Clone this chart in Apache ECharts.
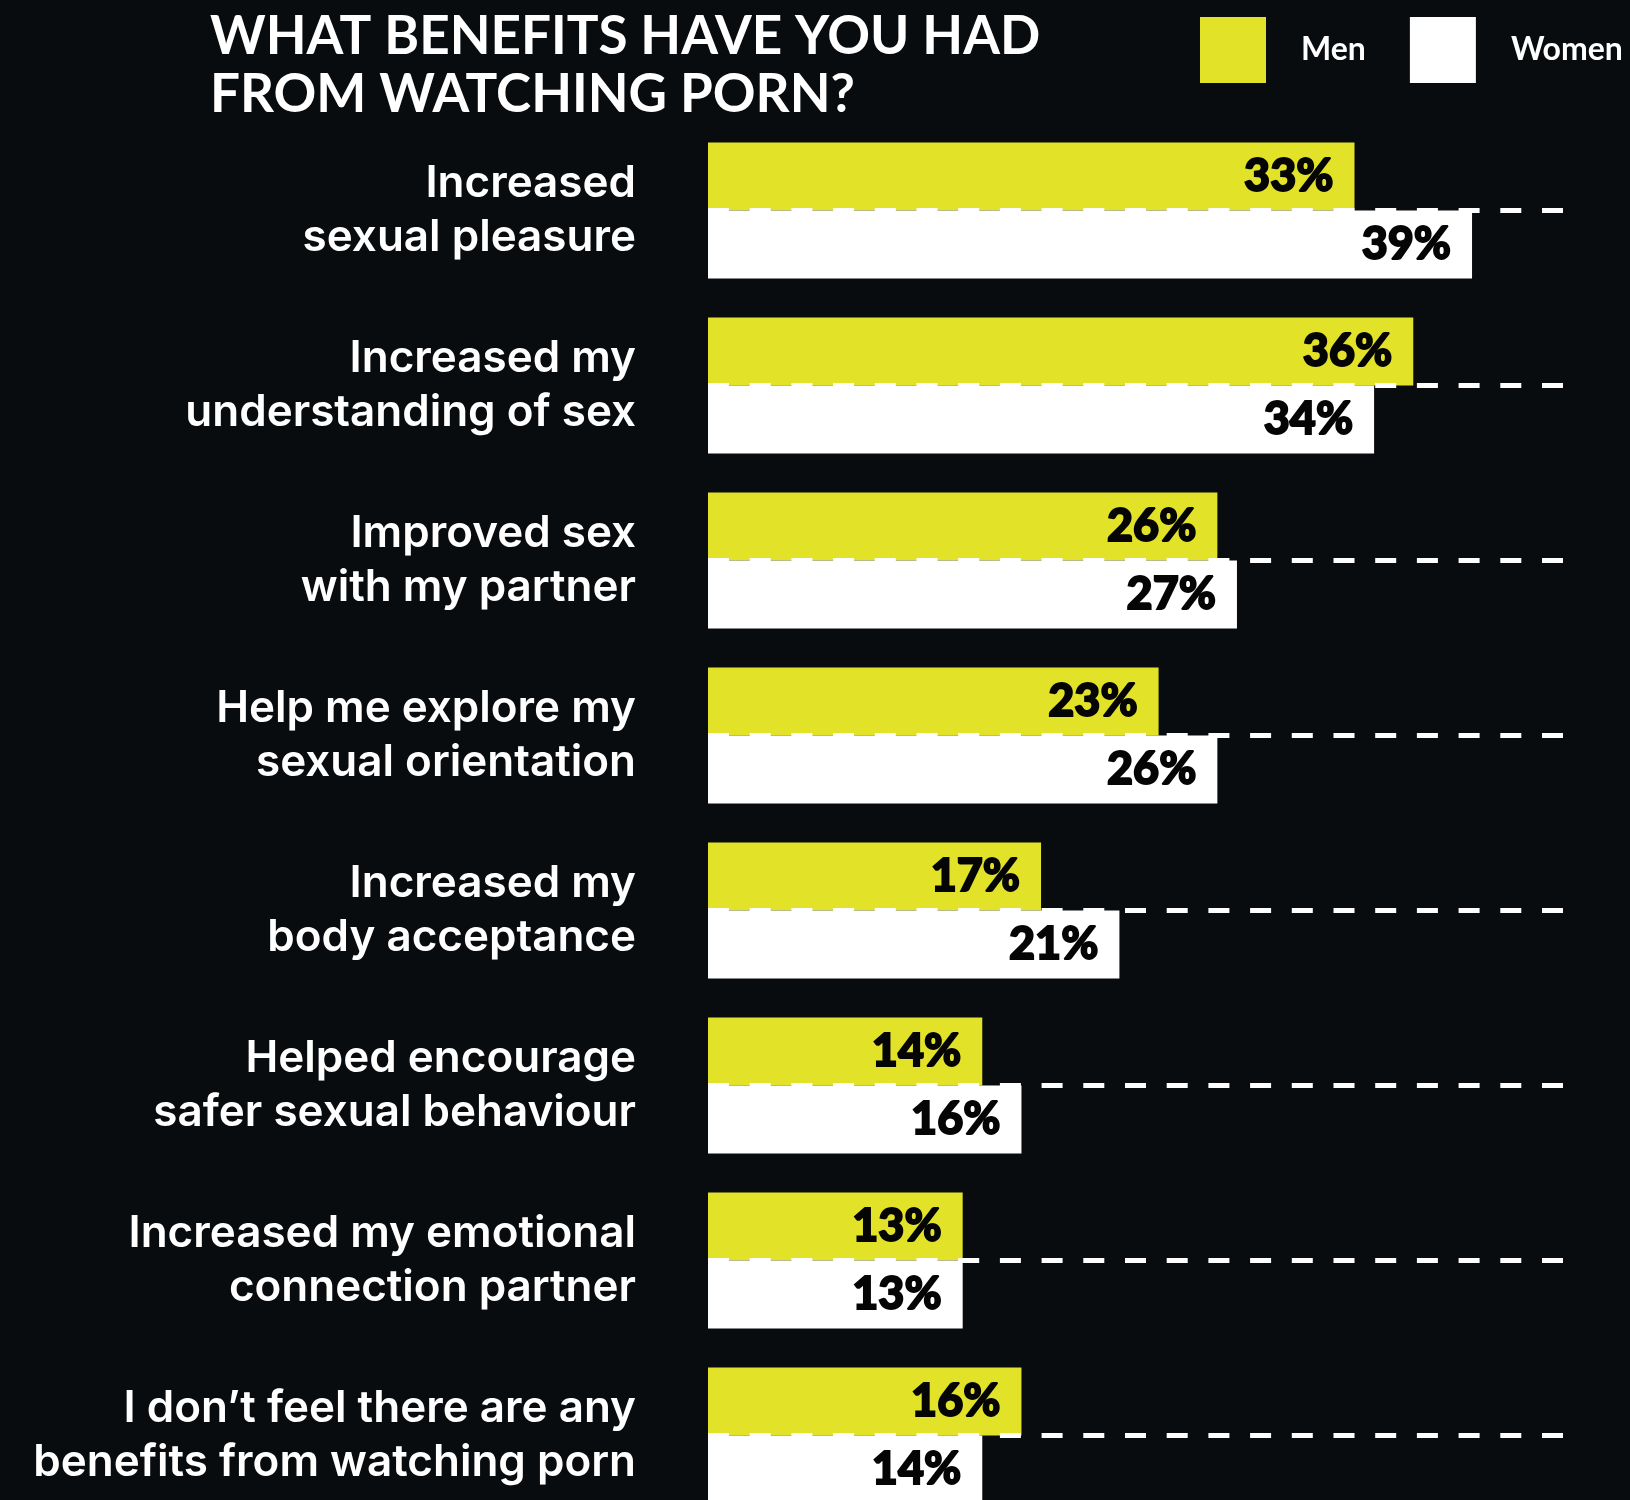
<!DOCTYPE html>
<html>
<head>
<meta charset="utf-8">
<script src="https://cdn.jsdelivr.net/npm/echarts@6/dist/echarts.min.js"></script>
<style>
html,body{margin:0;padding:0;background:#090c0f;}
#chart{width:1630px;height:1500px;}
</style>
</head>
<body>
<div id="chart"></div>
<script>
const titleText = 'WHAT BENEFITS HAVE YOU HAD\nFROM WATCHING PORN?';
const categories = [
  'Increased\nsexual pleasure',
  'Increased my\nunderstanding of sex',
  'Improved sex\nwith my partner',
  'Help me explore my\nsexual orientation',
  'Increased my\nbody acceptance',
  'Helped encourage\nsafer sexual behaviour',
  'Increased my emotional\nconnection partner',
  'I don\u2019t feel there are any\nbenefits from watching porn'
];
const seriesNames = ['Men', 'Women'];
const men = [33, 36, 26, 23, 17, 14, 13, 16];
const women = [39, 34, 27, 26, 21, 16, 13, 14];

const YELLOW = '#e2e228';
const WHITE = '#ffffff';
const BG = '#090c0f';
const FONT = 'Lato, "Open Sans", sans-serif';
const LABEL_FONT = 'Inter, Lato, sans-serif';
const VALUE_FONT = '"Lato Black", Lato, sans-serif';

const chart = echarts.init(document.getElementById('chart'), null, {renderer: 'canvas'});

const valueLabel = {
  show: true,
  position: 'insideRight',
  distance: 21,
  formatter: p => p.value + '%',
  color: '#050505',
  fontFamily: VALUE_FONT,
  fontWeight: 900,
  fontSize: 45,
  textBorderColor: '#050505',
  textBorderWidth: 1.8
};

chart.setOption({
  backgroundColor: BG,
  animation: false,
  title: {
    text: titleText,
    left: 210,
    top: 8,
    padding: 0,
    textStyle: {
      color: '#ffffff',
      fontFamily: FONT,
      fontWeight: 'bold',
      fontSize: 53,
      lineHeight: 58
    }
  },
  legend: {
    data: seriesNames,
    left: 1200,
    top: 17,
    padding: 0,
    orient: 'horizontal',
    itemWidth: 66,
    itemHeight: 66,
    itemGap: 44,
    icon: 'rect',
    selectedMode: false,
    textStyle: {
      color: '#ffffff',
      fontFamily: FONT,
      fontWeight: 'bold',
      fontSize: 32,
      padding: [0, 0, 0, 30]
    }
  },
  grid: {
    left: 708,
    right: 60,
    top: 123,
    height: 1400,
    containLabel: false,
    outerBoundsMode: 'none'
  },
  xAxis: {
    type: 'value',
    min: 0,
    max: 44,
    show: false,
    splitLine: {show: false}
  },
  yAxis: {
    type: 'category',
    data: categories,
    inverse: true,
    axisLine: {show: false},
    axisTick: {show: false},
    splitLine: {show: false},
    axisLabel: {
      color: '#ffffff',
      fontFamily: LABEL_FONT,
      fontWeight: 600,
      fontSize: 44,
      lineHeight: 54,
      align: 'right',
      margin: 72,
      padding: [8, 0, 0, 0]
    }
  },
  series: [
    {
      name: seriesNames[0],
      type: 'bar',
      data: men,
      barWidth: 68,
      barGap: '0%',
      itemStyle: {color: YELLOW},
      label: valueLabel
    },
    {
      name: seriesNames[1],
      type: 'bar',
      data: women,
      barWidth: 68,
      barGap: '0%',
      itemStyle: {color: WHITE},
      label: valueLabel
    },
    {
      name: 'divider',
      type: 'line',
      data: [],
      symbol: 'none',
      silent: true,
      markLine: {
        silent: true,
        symbol: ['none', 'none'],
        label: {show: false},
        z: 5,
        lineStyle: {
          color: '#ffffff',
          width: 5,
          type: [21, 20.7],
          opacity: 1
        },
        data: categories.map(c => ({yAxis: c}))
      }
    }
  ]
});
</script>
</body>
</html>
